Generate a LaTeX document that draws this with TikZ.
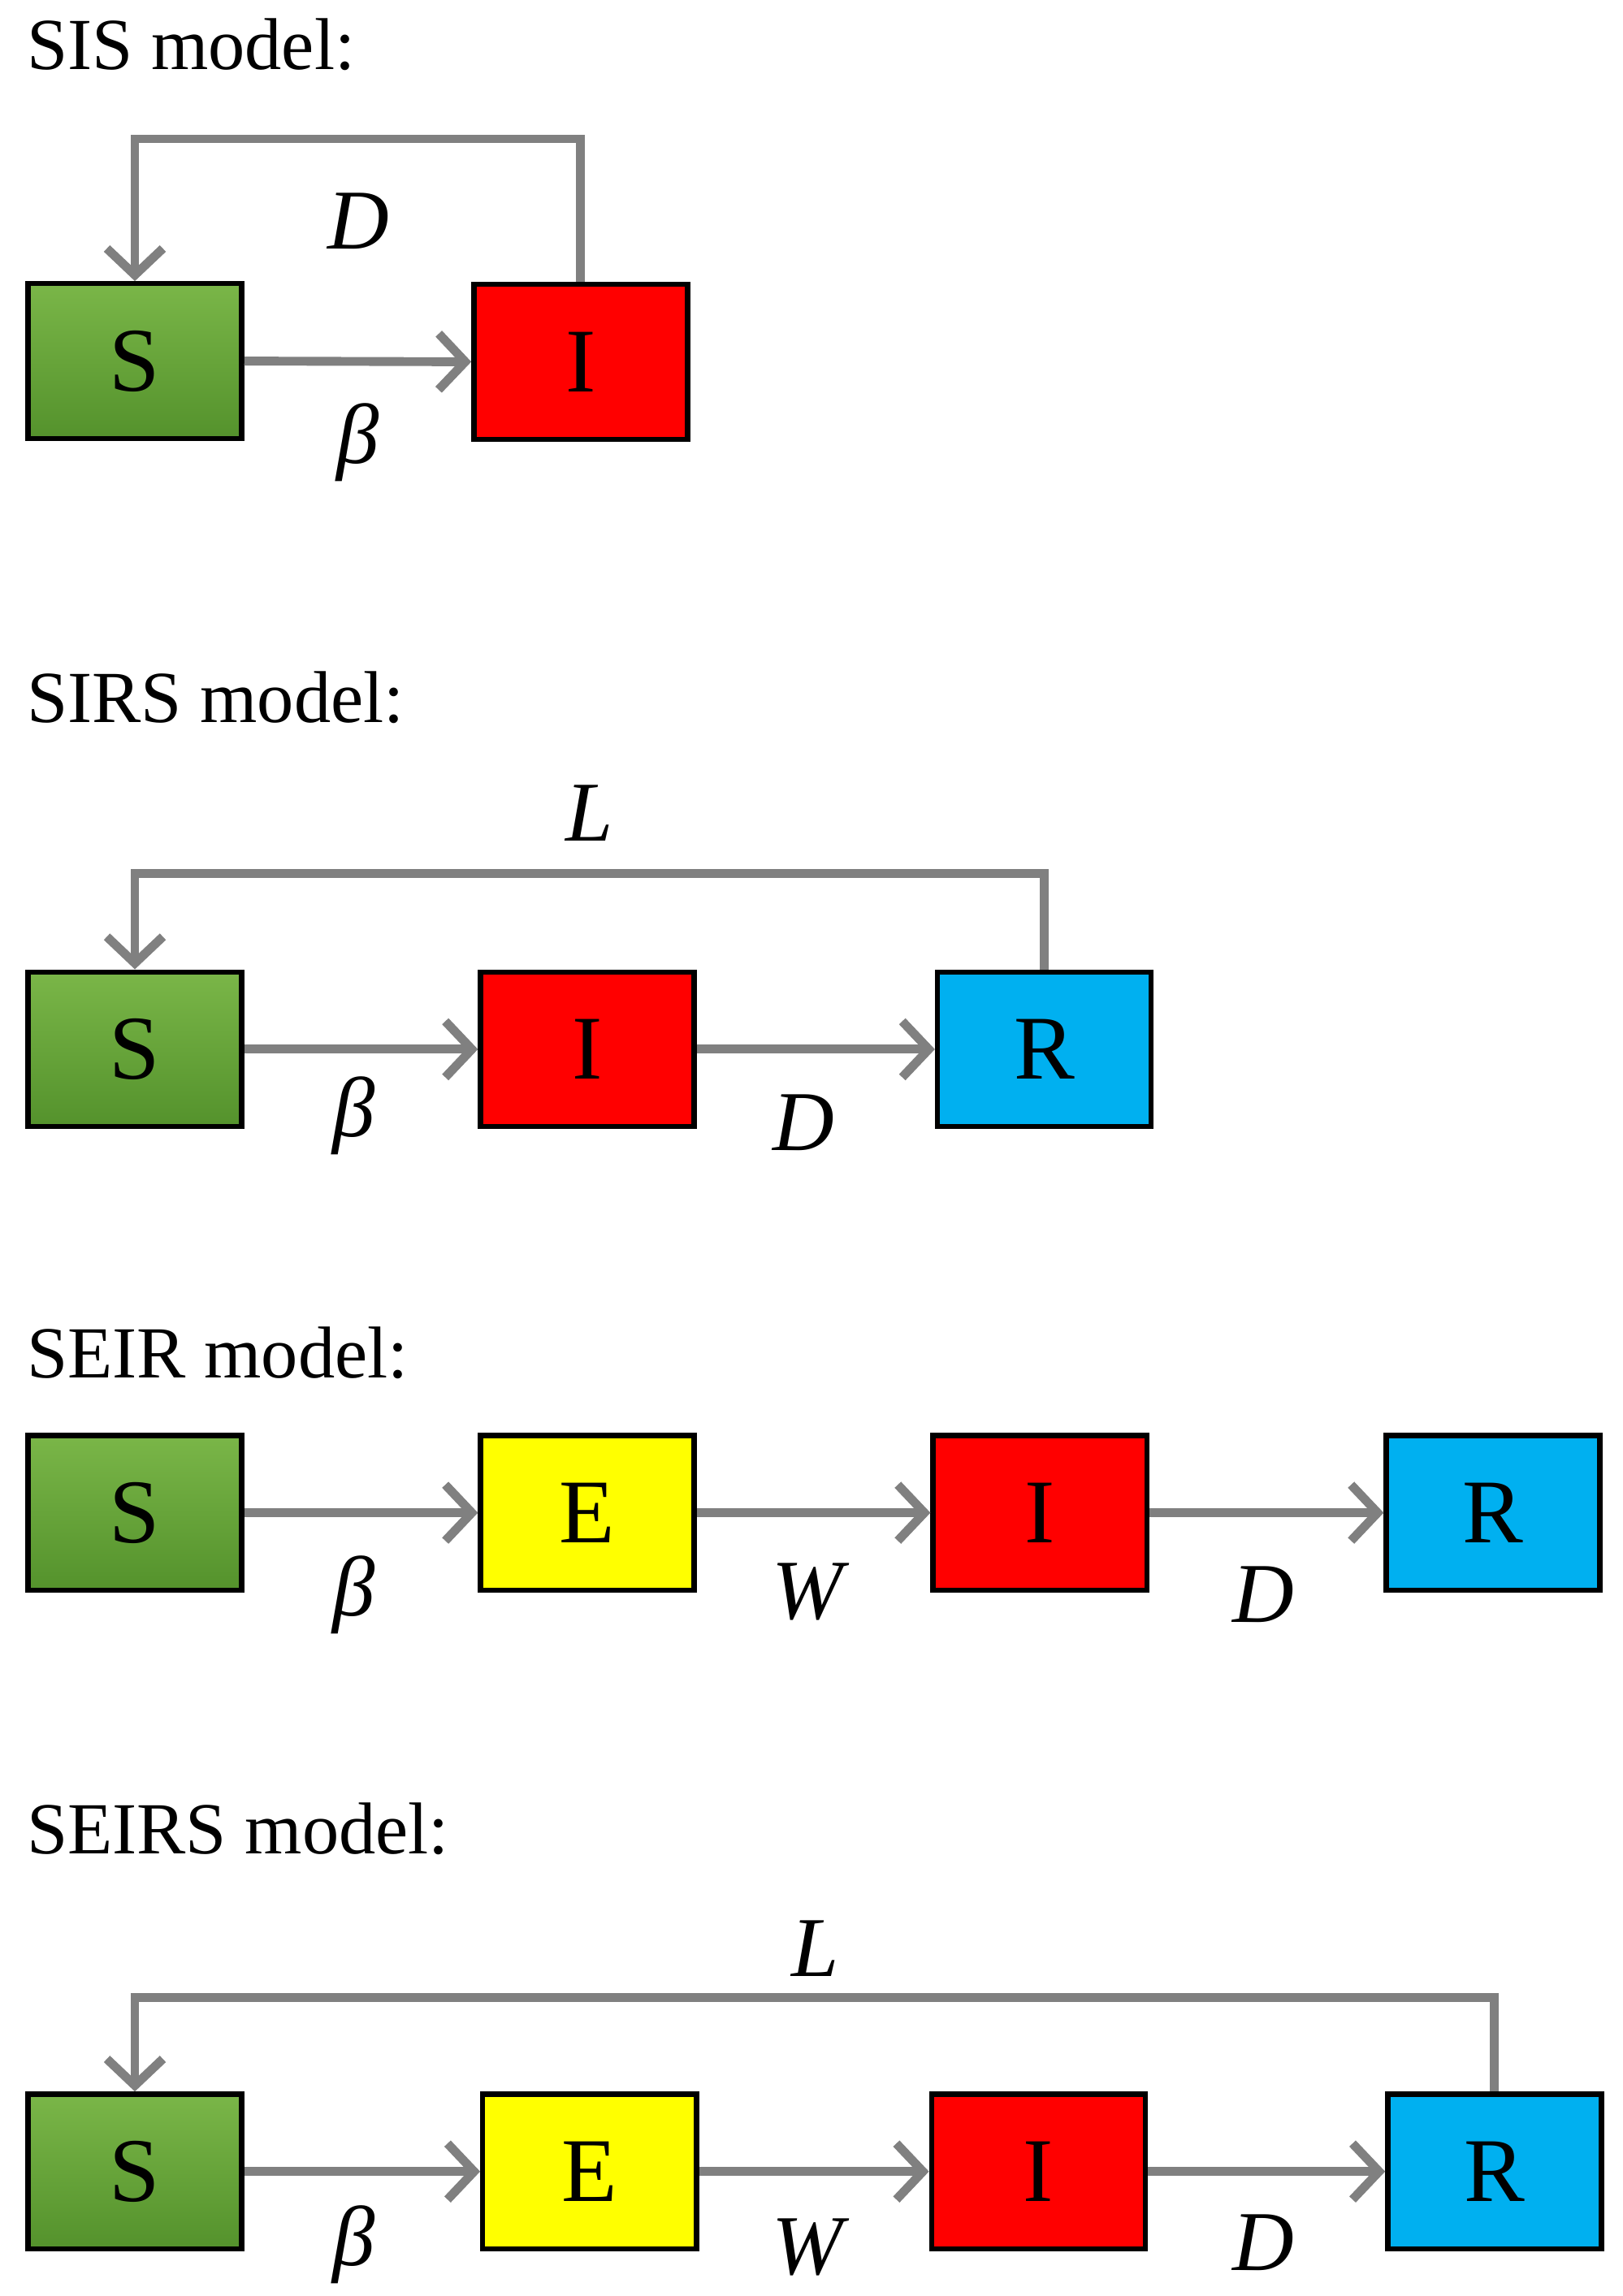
\documentclass[tikz,border=0pt]{standalone}
\usepackage{fontspec}
\setmainfont{Liberation Serif}
\usetikzlibrary{arrows.meta}
\definecolor{gtop}{HTML}{7AB648}
\definecolor{gbot}{HTML}{54922C}
\definecolor{myred}{HTML}{FF0000}
\definecolor{myyel}{HTML}{FFFF00}
\definecolor{myblue}{HTML}{00B0F0}
\definecolor{arr}{HTML}{808080}
\begin{document}
\begin{tikzpicture}[x=1bp,y=-1bp,
  box/.style={draw=black,line width=3.5bp,minimum width=145bp,minimum height=105bp,inner sep=0pt,font=\fontsize{62}{70}\selectfont},
  gbox/.style={box,top color=gtop,bottom color=gbot},
  title/.style={anchor=base west,inner sep=0pt,font=\fontsize{50}{58}\selectfont},
  lab/.style={inner sep=0pt,font=\fontsize{58}{66}\selectfont\itshape},
  fl/.style={draw=arr,line width=6bp,-{Straight Barb[length=18bp,width=38bp,line width=6bp]}}]
\useasboundingbox (0,0) rectangle (1101,1558);
% SIS
\node[title] (t1) at (18,47) {SIS model:};
\node[gbox] (s1) at (91.5,245) {S};
\node[box,fill=myred] (i1) at (394,245.5) {I};
\draw[fl] (s1.east) -- (i1.west);
\draw[fl] (i1.north) -- ++(0,-97) -| (s1.north);
\node[lab] (d1) at (243,150) {D};
\node[lab] (b1) at (243,300) {β};
% SIRS
\node[title] (t2) at (18,490) {SIRS model:};
\node[gbox] (s2) at (91.5,712) {S};
\node[box,fill=myred] (i2) at (398.5,712) {I};
\node[box,fill=myblue] (r2) at (708.5,712) {R};
\draw[fl] (s2.east) -- (i2.west);
\draw[fl] (i2.east) -- (r2.west);
\draw[fl] (r2.north) -- ++(0,-65) -| (s2.north);
\node[lab] (l2) at (400,552) {L};
\node[lab] (b2) at (240,757) {β};
\node[lab] (d2) at (545,762) {D};
% SEIR
\node[title] (t3) at (18,935) {SEIR model:};
\node[gbox] (s3) at (91.5,1026.5) {S};
\node[box,fill=myyel] (e3) at (398.5,1026.5) {E};
\node[box,fill=myred] (i3) at (705.5,1026.5) {I};
\node[box,fill=myblue] (r3) at (1013,1026.5) {R};
\draw[fl] (s3.east) -- (e3.west);
\draw[fl] (e3.east) -- (i3.west);
\draw[fl] (i3.east) -- (r3.west);
\node[lab] (b3) at (240,1082) {β};
\node[lab] (w3) at (548,1080) {W};
\node[lab] (d3) at (857,1082) {D};
% SEIRS
\node[title] (t4) at (18,1258) {SEIRS model:};
\node[gbox] (s4) at (91.5,1473.5) {S};
\node[box,fill=myyel] (e4) at (400,1473.5) {E};
\node[box,fill=myred] (i4) at (704.5,1473.5) {I};
\node[box,fill=myblue] (r4) at (1014,1473.5) {R};
\draw[fl] (s4.east) -- (e4.west);
\draw[fl] (e4.east) -- (i4.west);
\draw[fl] (i4.east) -- (r4.west);
\draw[fl] (r4.north) -- ++(0,-64) -| (s4.north);
\node[lab] (l4) at (553,1322) {L};
\node[lab] (b4) at (240,1523) {β};
\node[lab] (w4) at (548,1525) {W};
\node[lab] (d4) at (857,1522) {D};
\end{tikzpicture}
\end{document}
